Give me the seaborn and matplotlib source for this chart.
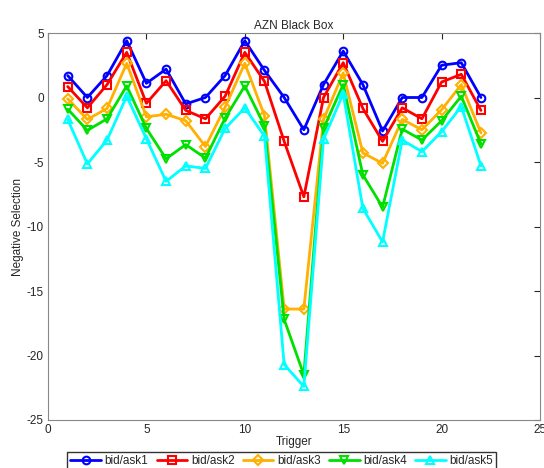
import numpy as np
import pandas as pd
import matplotlib
matplotlib.use('Agg')
import matplotlib.pyplot as plt
import seaborn as sns

trigger = list(range(1, 23))
ask1 = [1.7, 0.0, 1.7, 4.4, 1.1, 2.2, -0.5, 0.0, 1.7, 4.4, 2.1, 0.0,
        -2.5, 1.0, 3.6, 1.0, -2.6, 0.0, 0.0, 2.5, 2.7, 0.0]
ask2 = [0.85, -0.8, 1.0, 3.5, -0.45, 1.3, -1.0, -1.65, 0.1, 3.5, 1.25, -3.4,
        -7.7, 0.0, 2.7, -0.85, -3.4, -0.8, -1.65, 1.2, 1.8, -1.0]
ask3 = [-0.1, -1.7, -0.85, 2.65, -1.5, -1.3, -1.8, -3.8, -0.75, 2.65, -1.4, -16.4,
        -16.4, -1.7, 1.9, -4.3, -5.1, -1.7, -2.5, -0.95, 1.0, -2.75]
ask4 = [-0.9, -2.55, -1.65, 0.9, -2.4, -4.75, -3.65, -4.7, -1.6, 0.9, -2.2, -17.2,
        -21.5, -2.4, 1.0, -6.0, -8.5, -2.45, -3.3, -1.8, 0.1, -3.6]
ask5 = [-1.7, -5.15, -3.3, 0.1, -3.2, -6.5, -5.3, -5.5, -2.4, -0.8, -3.0, -20.7,
        -22.4, -3.25, 0.3, -8.6, -11.2, -3.3, -4.2, -2.65, -0.7, -5.3]

names = ['bid/ask1', 'bid/ask2', 'bid/ask3', 'bid/ask4', 'bid/ask5']
colors = ['#0000ff', '#ff0000', '#ffb000', '#00e000', '#00ffff']
markers = ['o', 's', 'D', 'v', '^']

df = pd.DataFrame({'Trigger': trigger, 'bid/ask1': ask1, 'bid/ask2': ask2,
                   'bid/ask3': ask3, 'bid/ask4': ask4, 'bid/ask5': ask5})
df = df.melt(id_vars='Trigger', var_name='series', value_name='value')

sns.set_style('white')
plt.rcParams['font.family'] = ['Liberation Sans', 'DejaVu Sans']
plt.rcParams['axes.unicode_minus'] = False
fig = plt.figure(figsize=(5.44, 4.68), dpi=100)
ax = fig.add_axes([48/544, 48/468, 492/544, 387/468])

for name, c, m in zip(names, colors, markers):
    sub = df[df['series'] == name]
    sns.lineplot(data=sub, x='Trigger', y='value', color=c, marker=m,
                 markersize=5.5, markerfacecolor='none', markeredgecolor=c,
                 markeredgewidth=1.5, linewidth=2, label=name, ax=ax)

ax.set_xlim(0, 25)
ax.set_ylim(-25, 5)
ax.set_xticks([0, 5, 10, 15, 20, 25])
ax.set_yticks([-25, -20, -15, -10, -5, 0, 5])
ax.tick_params(direction='in', labelsize=8.5, length=4, top=True, right=True, pad=3)
for s in ax.spines.values():
    s.set_color('#888888')
    s.set_linewidth(0.8)
ax.set_title('AZN Black Box', fontsize=8.5, pad=3)
ax.set_xlabel('Trigger', fontsize=8.5, labelpad=0)
ax.set_ylabel('Negative Selection', fontsize=8.5, labelpad=2)
ax.legend(loc='upper center', bbox_to_anchor=(0.475, -0.083), ncol=5,
          fontsize=8.5, frameon=True, fancybox=False, edgecolor='black',
          handlelength=2.6, columnspacing=0.7, handletextpad=0.3,
          borderpad=0.25, borderaxespad=0)

fig.savefig('out.png', dpi=100)
